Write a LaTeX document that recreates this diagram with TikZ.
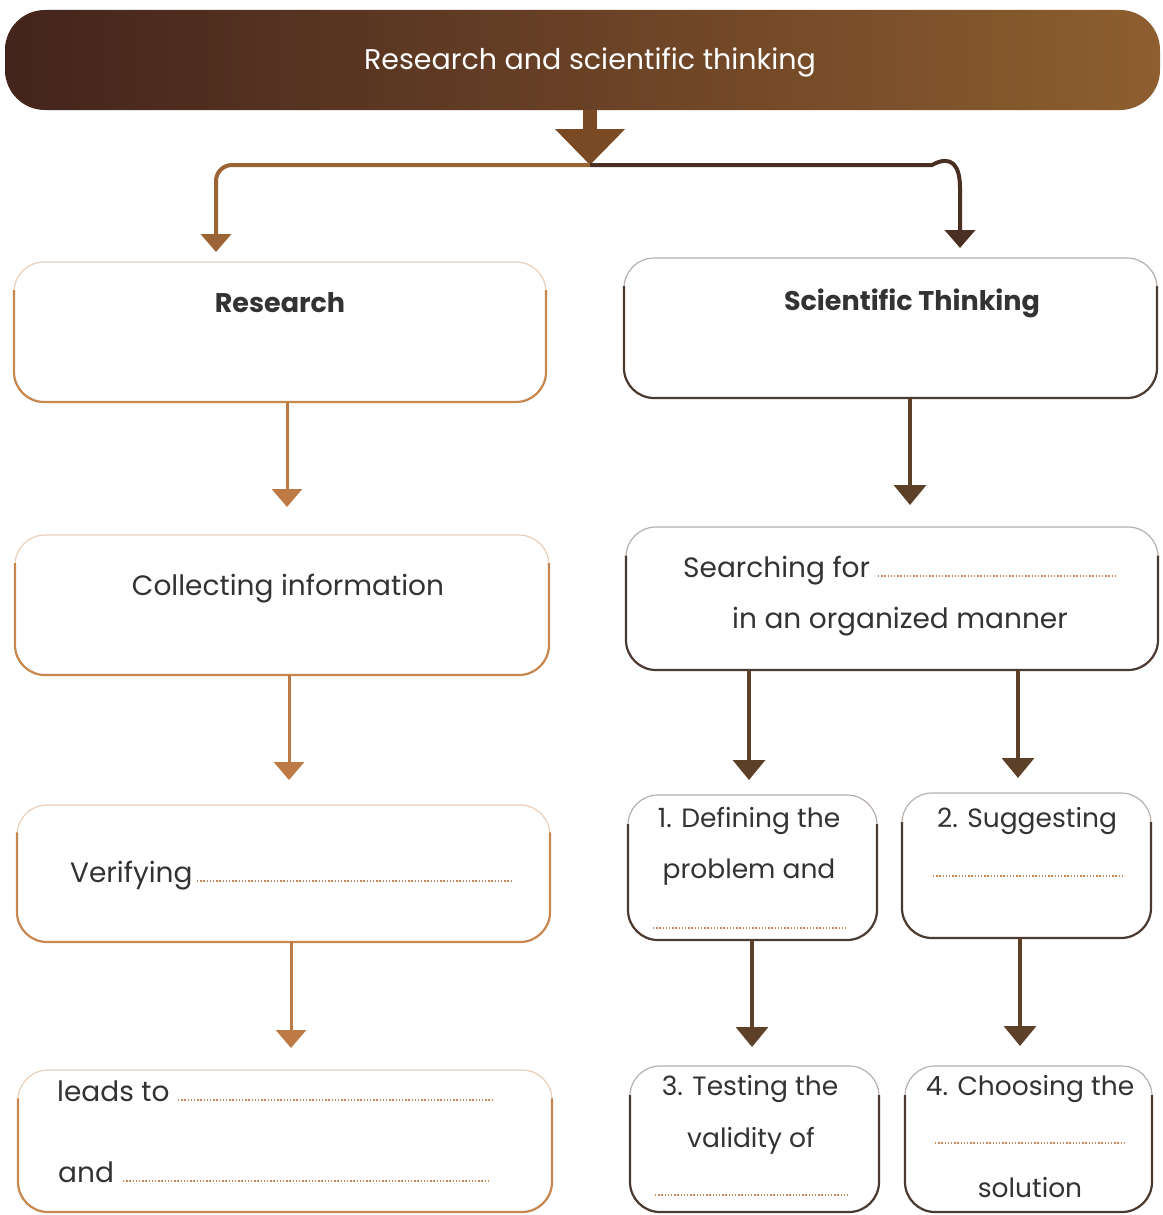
\documentclass[tikz,border=0pt]{standalone}
\usepackage{fontspec}
\setmainfont{Poppins}
\usetikzlibrary{arrows.meta,calc}

\definecolor{txt}{HTML}{333333}
\definecolor{lcol}{HTML}{C8874F}
\definecolor{rcol}{HTML}{4A3A30}
\definecolor{larr}{HTML}{BE7A44}
\definecolor{rarr}{HTML}{5C4028}
\definecolor{dotc}{HTML}{C8875A}
\definecolor{bandL}{HTML}{43241C}
\definecolor{bandR}{HTML}{8E5E2F}
\definecolor{midarr}{HTML}{7A4A24}
\definecolor{brL}{HTML}{9A6434}
\definecolor{brR}{HTML}{4A3022}

\tikzset{
  box/.style={rounded corners=30pt, draw=#1!40, line width=1.2pt, fill=white,
    inner sep=0pt, outer sep=0pt},
  rim/.style={draw=#1, line width=2.2pt, rounded corners=30pt},
  label/.style={font=\fontsize{28}{30}\selectfont, text=txt, inner sep=0pt, anchor=base},
  small/.style={label, font=\fontsize{26.5}{30}\selectfont},
  title/.style={label, font=\fontsize{27}{30}\selectfont\bfseries},
  fill line/.style={draw=dotc, line width=2.2pt, dash pattern=on 1.4pt off 1.8pt},
  arrL/.style={draw=larr, line width=3pt, -{Triangle[width=30pt,length=18pt]}},
  arrR/.style={draw=rarr, line width=3.5pt, -{Triangle[width=32pt,length=20pt]}},
}

\begin{document}
\begin{tikzpicture}[x=1pt,y=-1pt]
\useasboundingbox (0,0) rectangle (1162,1215);

% heading band
\node[rounded corners=40pt, left color=bandL, right color=bandR, minimum width=1155pt,
  minimum height=100pt, inner sep=0pt, outer sep=0pt] (top) at (582.5,60) {};
\node[label, text=white, font=\fontsize{28.5}{30}\selectfont] (toptext) at (590,70)
  {Research and scientific thinking};

% split under the heading
\coordinate (split) at (590,165);
\coordinate (lt) at (216,252);
\draw[midarr, line width=14pt, -{Triangle[width=68pt,length=36pt]}] ($(top.south)+(7.5,0)$) -- (split);
\draw[brL, line width=4pt, rounded corners=16pt, -{Triangle[width=30pt,length=18pt]}]
  (split) -| (lt);
\draw[brR, line width=4pt, -{Triangle[width=30pt,length=18pt]}]
  (split) -- (932,165) .. controls (952,154) and (960,166) .. (960,188) -- (960,248);

% boxes
\node[box=lcol, minimum width=532pt, minimum height=140pt] (research) at (280,332) {};
\node[box=rcol, minimum width=533pt, minimum height=140pt] (sci) at (890.5,328) {};
\node[box=lcol, minimum width=534pt, minimum height=140pt] (collect) at (282,605) {};
\node[box=rcol, minimum width=532pt, minimum height=143pt] (search) at (892,598.5) {};
\node[box=lcol, minimum width=533pt, minimum height=137pt] (verify) at (283.5,873.5) {};
\node[box=lcol, minimum width=534pt, minimum height=142pt] (leads) at (285,1141) {};
\node[box=rcol, minimum width=249pt, minimum height=145pt] (define) at (752.5,867.5) {};
\node[box=rcol, minimum width=249pt, minimum height=145pt] (suggest) at (1026.5,865.5) {};
\node[box=rcol, minimum width=249pt, minimum height=146pt] (test) at (754.5,1139) {};
\node[box=rcol, minimum width=247pt, minimum height=146pt] (choose) at (1028.5,1139) {};

% stronger lower rims
\foreach \n/\c in {research/lcol, collect/lcol, verify/lcol, leads/lcol,
    sci/rcol, search/rcol, define/rcol, suggest/rcol, test/rcol, choose/rcol}
  \draw[rim=\c] ($(\n.west)!0.6!(\n.north west)$) -- (\n.south west)
    -- (\n.south east) -- ($(\n.east)!0.6!(\n.north east)$);

% texts
\node[title] (t-research) at (280,312) {Research};
\node[title] (t-sci) at (912,310) {Scientific Thinking};
\node[label] (t-collect) at (288,595) {Collecting information};
\node[label, anchor=base west] (t-search) at (683,577) {Searching for};
\draw[fill line] (878,576) -- (1116,576);
\node[label] (t-search2) at (900,628) {in an organized manner};
\node[label, anchor=base west] (t-verify) at (70,882) {Verifying};
\draw[fill line] (197,881) -- (511,881);
\node[label, anchor=base west] (t-leads) at (57,1101) {leads to};
\draw[fill line] (178,1100) -- (493,1100);
\node[label, anchor=base west] (t-and) at (58,1182) {and};
\draw[fill line] (123,1181) -- (490,1181);

\node[small] (t-def1) at (749,827) {1. Defining the};
\node[small] (t-def2) at (749,878) {problem and};
\draw[fill line] (653,928) -- (846,928);
\node[small] (t-sug) at (1027,827) {2. Suggesting};
\draw[fill line] (933,876) -- (1125,876);
\node[small] (t-test1) at (750,1095) {3. Testing the};
\node[small] (t-test2) at (751,1147) {validity of};
\draw[fill line] (655,1195) -- (848,1195);
\node[small] (t-ch1) at (1030,1095) {4. Choosing the};
\draw[fill line] (935,1143) -- (1126,1143);
\node[small] (t-ch2) at (1030,1197) {solution};

% connectors
\draw[arrL] ($(research.south)+(7,0)$) -- ($(collect.north)+(5,-28)$);
\draw[arrL] ($(collect.south)+(7,0)$) -- ($(verify.north)+(5.5,-25)$);
\draw[arrL] ($(verify.south)+(7.5,0)$) -- ($(leads.north)+(6,-22)$);
\draw[arrR] ($(sci.south)+(19.5,0)$) -- ($(search.north)+(18,-22)$);
\draw[arrR] ($(search.south)+(-143,0)$) -- ($(define.north)+(-3.5,-15)$);
\draw[arrR] ($(search.south)+(126,0)$) -- ($(suggest.north)+(-8.5,-15)$);
\draw[arrR] ($(define.south)+(-0.5,0)$) -- ($(test.north)+(-2.5,-19)$);
\draw[arrR] ($(suggest.south)+(-6.5,0)$) -- ($(choose.north)+(-8.5,-20)$);
\end{tikzpicture}
\end{document}
